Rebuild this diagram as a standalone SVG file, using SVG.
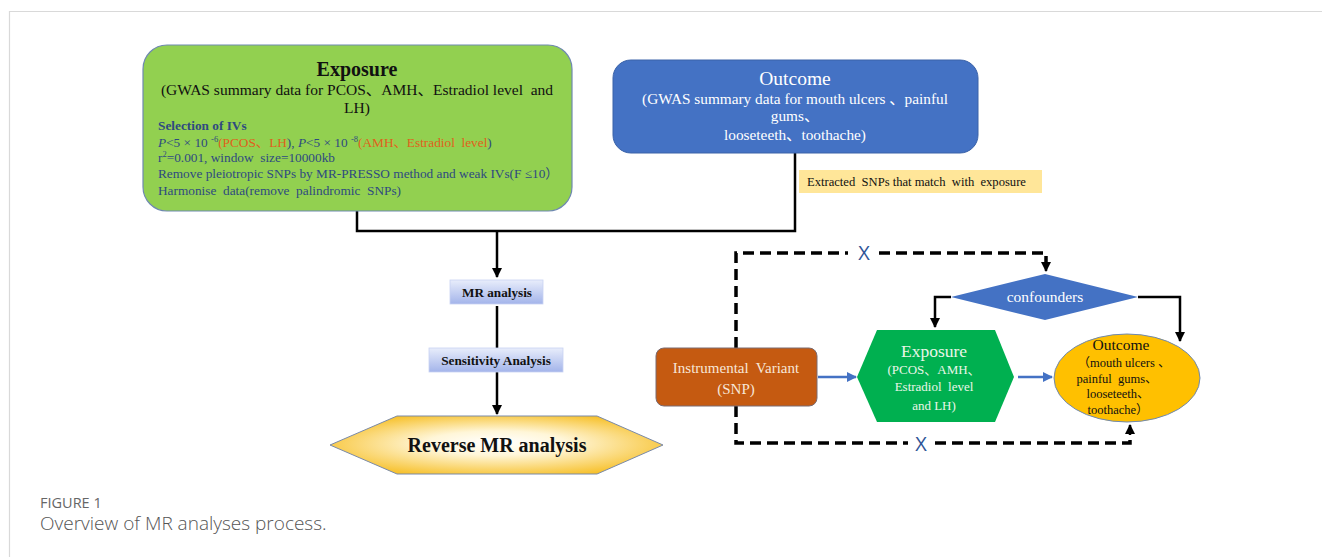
<svg xmlns="http://www.w3.org/2000/svg" width="1322" height="557" viewBox="0 0 1322 557">
<defs>
<style>
.serif{font-family:"Liberation Serif","Noto Sans CJK SC",serif;white-space:pre;}
.sans{font-family:"Open Sans","Noto Sans",sans-serif;}
.conn{stroke:#000;stroke-width:2.5;fill:none;}
.dash{stroke:#000;stroke-width:3.5;fill:none;stroke-dasharray:11 6;}
.blue{stroke:#4472c4;stroke-width:2.5;fill:none;}
.iv{font-size:13.3px;fill:#2e4a80;}
</style>
<marker id="ah" viewBox="0 0 10 10" refX="9" refY="5" markerWidth="4" markerHeight="4" orient="auto" markerUnits="strokeWidth"><path d="M0,0L10,5L0,10z" fill="#000"/></marker>
<marker id="ahb" viewBox="0 0 10 10" refX="9" refY="5" markerWidth="4" markerHeight="4" orient="auto" markerUnits="strokeWidth"><path d="M0,0L10,5L0,10z" fill="#4472c4"/></marker>
<linearGradient id="gBox" x1="0" y1="0" x2="0" y2="1"><stop offset="0" stop-color="#e8edfb"/><stop offset="1" stop-color="#a3b4ea"/></linearGradient>
<radialGradient id="gHex" cx="0.5" cy="0.5" r="0.6" fx="0.5" fy="0.45"><stop offset="0" stop-color="#ffffff"/><stop offset="0.35" stop-color="#fff6d8"/><stop offset="1" stop-color="#f6bc1c"/></radialGradient>
</defs>
<rect width="1322" height="557" fill="#fff"/>
<g id="frame" fill="none" stroke="#d9d9d9" stroke-width="1.2"><path d="M9.5,557V11.5H1322"/></g>

<g id="connectors">
<path class="conn" d="M357,211V231H795V153"/>
<path class="conn" d="M497,231V277" marker-end="url(#ah)"/>
<path class="conn" d="M497,306V348"/>
<path class="conn" d="M497,372V414" marker-end="url(#ah)"/>
<path class="dash" d="M736,348V253H848"/>
<path class="dash" d="M879,253H1046V270"/>
<path class="conn" d="M1046,262V271" marker-end="url(#ah)"/>
<path class="dash" d="M736,406V443H908"/>
<path class="dash" d="M935,443H1130V432"/>
<path class="conn" d="M1130,435V425" marker-end="url(#ah)"/>
<path class="conn" d="M951,297H935V327" marker-end="url(#ah)"/>
<path class="conn" d="M1138,297H1180V341" marker-end="url(#ah)"/>
<path class="blue" d="M818,377H856" marker-end="url(#ahb)"/>
<path class="blue" d="M1018,377H1052" marker-end="url(#ahb)"/>
<text class="sans" x="864" y="260" font-size="20" fill="#2f5597" text-anchor="middle">X</text>
<text class="sans" x="921" y="451" font-size="20" fill="#2f5597" text-anchor="middle">X</text>
</g>

<g id="exposure">
<rect x="143" y="45" width="429" height="166" rx="24" fill="#92d050" stroke="#6f89b0" stroke-width="1.2"/>
<text class="serif" x="357" y="76" font-size="20" font-weight="bold" text-anchor="middle" fill="#111">Exposure</text>
<text class="serif" x="357" y="95" font-size="15.5" text-anchor="middle" fill="#111">(GWAS summary data for PCOS、AMH、Estradiol level  and</text>
<text class="serif" x="357" y="113" font-size="15.5" text-anchor="middle" fill="#111">LH)</text>
<text class="serif iv" x="158" y="130" font-weight="bold" fill="#1f3a78">Selection of IVs</text>
<text class="serif iv" x="158" y="147"><tspan font-style="italic">P</tspan>&lt;5 × 10 <tspan font-size="8.5" dy="-5">-6</tspan><tspan dy="5" fill="#e0601c">(PCOS、LH</tspan>), <tspan font-style="italic">P</tspan>&lt;5 × 10 <tspan font-size="8.5" dy="-5">-8</tspan><tspan dy="5" fill="#e0601c">(AMH、Estradiol  level</tspan>)</text>
<text class="serif iv" x="158" y="162">r<tspan font-size="8.5" dy="-5">2</tspan><tspan dy="5">=0.001, window  size=10000kb</tspan></text>
<text class="serif iv" x="158" y="178">Remove pleiotropic SNPs by MR-PRESSO method and weak IVs(F ≤10）</text>
<text class="serif iv" x="158" y="195">Harmonise  data(remove  palindromic  SNPs)</text>
</g>

<g id="outcome">
<rect x="613" y="60" width="365" height="93" rx="18" fill="#4472c4" stroke="#3a62a8" stroke-width="1"/>
<text class="serif" x="795" y="85" font-size="19.5" text-anchor="middle" fill="#fff">Outcome</text>
<text class="serif" x="795" y="104" font-size="15.3" text-anchor="middle" fill="#fff">(GWAS summary data for mouth ulcers 、painful</text>
<text class="serif" x="795" y="121" font-size="15.3" text-anchor="middle" fill="#fff">gums、</text>
<text class="serif" x="795" y="140" font-size="15.3" text-anchor="middle" fill="#fff">looseteeth、toothache)</text>
</g>

<g id="extract-label">
<rect x="799" y="170" width="243" height="23" fill="#ffe699"/>
<text class="serif" x="807" y="186" font-size="12.6" fill="#111">Extracted  SNPs that match  with  exposure</text>
</g>

<g id="mr-analysis">
<rect x="450" y="280" width="93" height="24" fill="url(#gBox)" stroke="#c9d3f2" stroke-width="0.8"/>
<text class="serif" x="497" y="297" font-size="13.2" font-weight="bold" text-anchor="middle" fill="#111">MR analysis</text>
</g>

<g id="sensitivity">
<rect x="429" y="348" width="134" height="24" fill="url(#gBox)" stroke="#c9d3f2" stroke-width="0.8"/>
<text class="serif" x="496" y="365" font-size="13.3" font-weight="bold" text-anchor="middle" fill="#111">Sensitivity Analysis</text>
</g>

<g id="reverse-mr">
<polygon points="330,445 397,416 597,416 663,445 597,474 397,474" fill="url(#gHex)" stroke="#7a8aa8" stroke-width="1"/>
<text class="serif" x="497" y="452" font-size="20" font-weight="bold" text-anchor="middle" fill="#111">Reverse MR analysis</text>
</g>

<g id="iv">
<rect x="656" y="348" width="161" height="58" rx="8" fill="#c55a11" stroke="#7a6a70" stroke-width="1"/>
<text class="serif" x="736" y="373" font-size="15" text-anchor="middle" fill="#f7e6d8">Instrumental  Variant</text>
<text class="serif" x="736" y="394" font-size="15" text-anchor="middle" fill="#f7e6d8">(SNP)</text>
</g>

<g id="exposure-hex">
<polygon points="857,377 877,330 995,330 1014,377 995,422 877,422" fill="#00b050"/>
<text class="serif" x="934" y="357" font-size="17.5" text-anchor="middle" fill="#eaf6e8">Exposure</text>
<text class="serif" x="934" y="374" font-size="13" text-anchor="middle" fill="#eaf6e8">(PCOS、AMH、</text>
<text class="serif" x="934" y="391" font-size="13" text-anchor="middle" fill="#eaf6e8">Estradiol  level</text>
<text class="serif" x="934" y="410" font-size="13" text-anchor="middle" fill="#eaf6e8">and LH)</text>
</g>

<g id="confounders">
<polygon points="951,297 1045,274 1138,297 1045,320" fill="#4472c4"/>
<text class="serif" x="1045" y="302" font-size="15.5" text-anchor="middle" fill="#fff">confounders</text>
</g>

<g id="outcome-ellipse">
<ellipse cx="1127" cy="378" rx="73" ry="44" fill="#ffc000" stroke="#6f89b0" stroke-width="1"/>
<text class="serif" x="1121" y="350" font-size="15.5" text-anchor="middle" fill="#111">Outcome</text>
<text class="serif" x="1124" y="367" font-size="12.5" text-anchor="middle" fill="#111">（mouth ulcers 、</text>
<text class="serif" x="1117" y="383" font-size="12.5" text-anchor="middle" fill="#111">painful  gums、</text>
<text class="serif" x="1118" y="398" font-size="12.5" text-anchor="middle" fill="#111">looseteeth、</text>
<text class="serif" x="1118" y="414" font-size="12.5" text-anchor="middle" fill="#111">toothache）</text>
</g>

<g id="caption">
<text class="sans" x="40" y="508" font-size="14.5" fill="#666">FIGURE 1</text>
<text class="sans" x="40" y="530" font-size="19" font-weight="300" fill="#555">Overview of MR analyses process.</text>
</g>
</svg>
